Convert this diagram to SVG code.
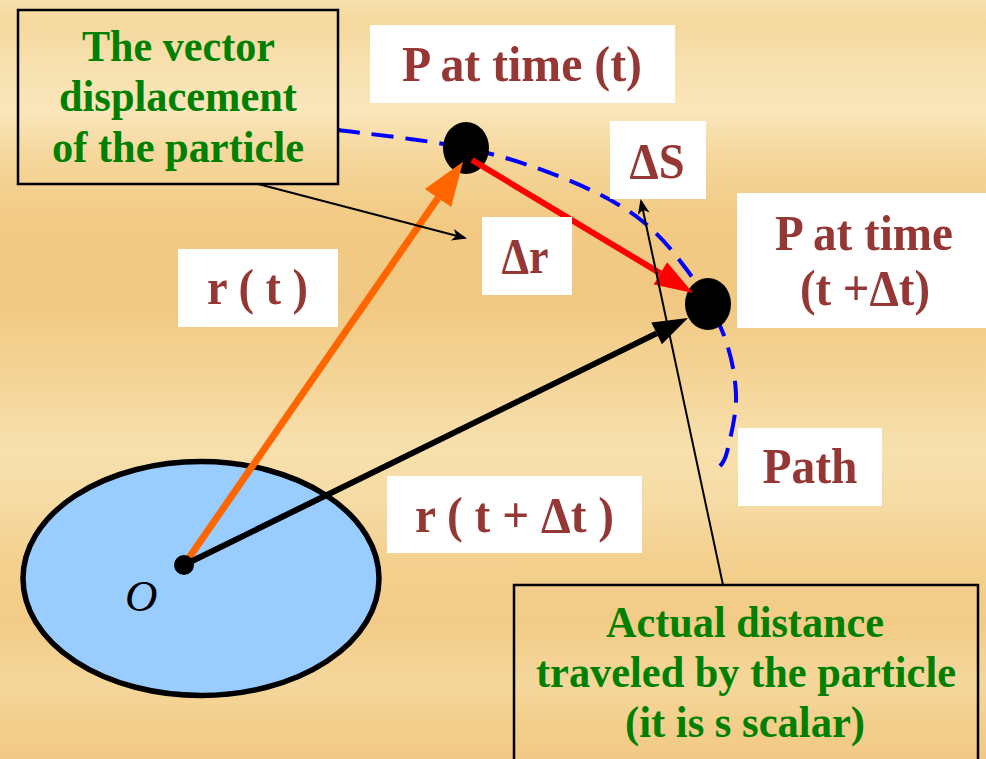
<svg xmlns="http://www.w3.org/2000/svg" width="986" height="759" viewBox="0 0 986 759">
  <style>
    .lbl-box { fill: #ffffff; }
    .lbl { font-family: "Liberation Serif", "Times New Roman", serif; font-weight: bold; font-size: 50px; fill: #953735; text-anchor: middle; }
    .note-box { fill: none; stroke: #000000; stroke-width: 2.5; }
    .note { font-family: "Liberation Serif", "Times New Roman", serif; font-weight: bold; font-size: 44px; fill: #008000; text-anchor: middle; }
    .dot { fill: #000000; }
    .thin { stroke: #000000; stroke-width: 2; fill: none; }
  </style>
  <defs>
    <linearGradient id="wood" x1="0" y1="0" x2="0" y2="1">
      <stop offset="0" stop-color="#f8e1ae"/>
      <stop offset="0.03" stop-color="#f5d89c"/>
      <stop offset="0.08" stop-color="#f7e0ad"/>
      <stop offset="0.145" stop-color="#f9e6bb"/>
      <stop offset="0.21" stop-color="#f5d69a"/>
      <stop offset="0.29" stop-color="#f2ca84"/>
      <stop offset="0.4" stop-color="#f1c882"/>
      <stop offset="0.46" stop-color="#f3d08f"/>
      <stop offset="0.53" stop-color="#f5d89e"/>
      <stop offset="0.59" stop-color="#f7e0ae"/>
      <stop offset="0.66" stop-color="#f6dba4"/>
      <stop offset="0.74" stop-color="#f3d08e"/>
      <stop offset="0.82" stop-color="#f2cc87"/>
      <stop offset="0.9" stop-color="#f5d79c"/>
      <stop offset="0.95" stop-color="#f3cf8c"/>
      <stop offset="1" stop-color="#f1c985"/>
    </linearGradient>
    <marker id="ah-orange" markerUnits="userSpaceOnUse" markerWidth="44" markerHeight="32" refX="0" refY="16" orient="auto" overflow="visible">
      <path d="M0,0 L44,16 L0,32 z" fill="#ff6600"/>
    </marker>
    <marker id="ah-red" markerUnits="userSpaceOnUse" markerWidth="38" markerHeight="26" refX="0" refY="13" orient="auto" overflow="visible">
      <path d="M0,0 L38,13 L0,26 z" fill="#ff0000"/>
    </marker>
    <marker id="ah-black" markerUnits="userSpaceOnUse" markerWidth="35" markerHeight="24" refX="0" refY="12" orient="auto" overflow="visible">
      <path d="M0,0 L35,12 L0,24 z" fill="#000000"/>
    </marker>
    <marker id="ah-thin" markerUnits="userSpaceOnUse" markerWidth="15" markerHeight="12" refX="13" refY="6" orient="auto" overflow="visible">
      <path d="M0,0 L15,6 L0,12 L4,6 z" fill="#000000"/>
    </marker>
  </defs>

  <rect id="background" x="0" y="0" width="986" height="759" fill="url(#wood)"/>

  <g id="origin-region">
    <ellipse cx="201" cy="578.5" rx="178" ry="117" fill="#99ccff" stroke="#000000" stroke-width="5.5"/>
    <text x="125" y="611" font-family="Liberation Serif, Times New Roman, serif" font-style="italic" font-size="45" fill="#000000">O</text>
  </g>

  <g id="connectors">
    <path id="path-curve" d="M338,130 C359,133 428.5,140 466,148 C503.5,156 534.5,166.5 563,178 C591.5,189.5 616.3,201.7 637,217 C657.7,232.3 672.7,250.7 687,270 C701.3,289.3 714.8,312.2 723,333 C731.2,353.8 735.3,375.2 736,395 C736.7,414.8 729.7,440.2 727,452 C725,460 722,464 720,466" fill="none" stroke="#0000ff" stroke-width="4" stroke-dasharray="22 12"/>
  </g>

  <g id="point-P1">
    <ellipse class="dot" cx="466" cy="148" rx="23" ry="26"/>
  </g>
  <g id="point-P2">
    <ellipse class="dot" cx="708" cy="304" rx="23" ry="26"/>
  </g>

  <g id="vectors">
    <line id="vec-r-t" x1="184" y1="565" x2="438" y2="198" stroke="#ff6600" stroke-width="7" marker-end="url(#ah-orange)"/>
    <line id="vec-delta-r" x1="472" y1="160" x2="660.4" y2="273.4" stroke="#ff0000" stroke-width="6" marker-end="url(#ah-red)"/>
    <line id="vec-r-t-dt" x1="184" y1="565" x2="656.6" y2="333.4" stroke="#000000" stroke-width="6" marker-end="url(#ah-black)"/>
  </g>

  <g id="origin-dot">
    <circle class="dot" cx="184" cy="565" r="10"/>
  </g>

  <g id="label-P-t">
    <rect class="lbl-box" x="370" y="25" width="305" height="78"/>
    <text class="lbl" x="522" y="81" textLength="240" lengthAdjust="spacingAndGlyphs">P at time (t)</text>
  </g>

  <g id="label-delta-S">
    <rect class="lbl-box" x="610" y="121" width="96" height="78"/>
    <text class="lbl" x="657" y="178" textLength="55" lengthAdjust="spacingAndGlyphs">ΔS</text>
  </g>

  <g id="label-delta-r">
    <rect class="lbl-box" x="482" y="217" width="90" height="78"/>
    <text class="lbl" x="525" y="273" textLength="47" lengthAdjust="spacingAndGlyphs">Δr</text>
  </g>

  <g id="label-P-t-dt">
    <rect class="lbl-box" x="737" y="193" width="249" height="135"/>
    <text class="lbl" x="864" y="250" textLength="178" lengthAdjust="spacingAndGlyphs">P at time</text>
    <text class="lbl" x="865" y="305" textLength="130" lengthAdjust="spacingAndGlyphs">(t +Δt)</text>
  </g>

  <g id="label-r-t">
    <rect class="lbl-box" x="178" y="249" width="160" height="78"/>
    <text class="lbl" x="257.5" y="304" textLength="101" lengthAdjust="spacingAndGlyphs">r ( t )</text>
  </g>

  <g id="label-r-t-dt">
    <rect class="lbl-box" x="387" y="476" width="255" height="77"/>
    <text class="lbl" x="514.5" y="532" textLength="199" lengthAdjust="spacingAndGlyphs">r ( t + Δt )</text>
  </g>

  <g id="label-path">
    <rect class="lbl-box" x="738" y="428" width="144" height="78"/>
    <text class="lbl" x="810" y="483" textLength="95" lengthAdjust="spacingAndGlyphs">Path</text>
  </g>

  <g id="note-displacement">
    <rect class="note-box" x="18" y="10" width="320" height="174"/>
    <text class="note" x="178.5" y="61" textLength="193" lengthAdjust="spacingAndGlyphs">The vector</text>
    <text class="note" x="178" y="111" textLength="238" lengthAdjust="spacingAndGlyphs">displacement</text>
    <text class="note" x="178" y="162" textLength="252" lengthAdjust="spacingAndGlyphs">of the particle</text>
  </g>

  <g id="note-distance">
    <rect class="note-box" x="514" y="585" width="464" height="190"/>
    <text class="note" x="745" y="637" textLength="278" lengthAdjust="spacingAndGlyphs">Actual distance</text>
    <text class="note" x="746" y="687" textLength="420" lengthAdjust="spacingAndGlyphs">traveled by the particle</text>
    <text class="note" x="745" y="737" textLength="240" lengthAdjust="spacingAndGlyphs">(it is s scalar)</text>
  </g>

  <g id="callouts">
    <line class="thin" x1="258" y1="184" x2="465" y2="238" marker-end="url(#ah-thin)"/>
    <line class="thin" x1="723" y1="585" x2="641" y2="201" marker-end="url(#ah-thin)"/>
  </g>
</svg>
